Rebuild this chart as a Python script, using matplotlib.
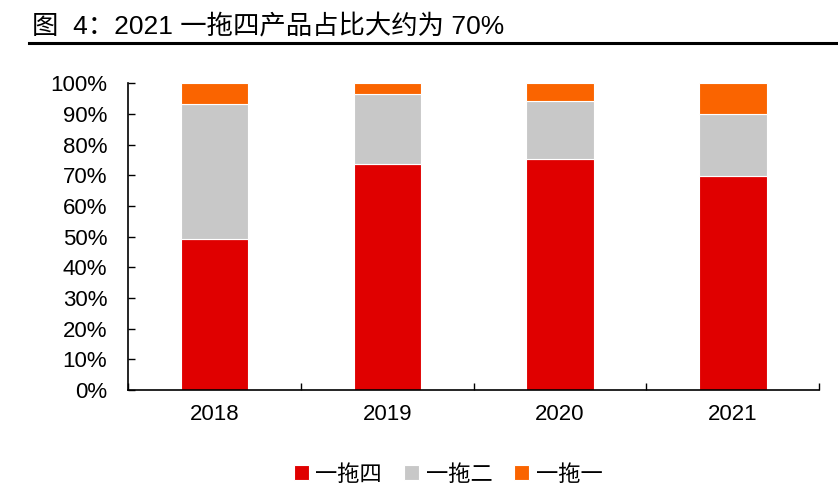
import numpy as np
import matplotlib
matplotlib.use('Agg')
import matplotlib.pyplot as plt
from matplotlib.ticker import PercentFormatter

plt.rcParams['font.family'] = ['Liberation Sans', 'Noto Sans CJK SC', 'DejaVu Sans']

years = ['2018', '2019', '2020', '2021']
series_names = ['一拖四', '一拖二', '一拖一']
share_4 = [49.3, 73.8, 75.2, 69.9]
share_2 = [44.0, 22.7, 19.0, 20.1]
share_1 = [6.7, 3.5, 5.8, 10.0]
colors = ['#E00000', '#C8C8C8', '#FA6400']

fig = plt.figure(figsize=(8.38, 4.98), dpi=100)
ax = fig.add_axes([0.1527, 0.2169, 0.825, 0.6158])

x = np.arange(len(years))
bottom = np.zeros(len(years))
for name, vals, c in zip(series_names, [share_4, share_2, share_1], colors):
    vals = np.array(vals) / 100
    ax.bar(x, vals, width=0.39, bottom=bottom, color=c, edgecolor='white',
           linewidth=0.8, label=name)
    bottom += vals

ax.set_xlim(-0.5, len(years) - 0.5)
ax.set_ylim(0, 1)
ax.set_yticks(np.arange(0, 1.01, 0.1))
ax.yaxis.set_major_formatter(PercentFormatter(1.0, decimals=0))
ax.set_xticks(x)
ax.set_xticklabels(years)
ax.tick_params(axis='x', length=0, labelsize=16, pad=10)
ax.set_xticks(np.arange(-0.5, len(years)), minor=True)
ax.tick_params(axis='x', which='minor', direction='in', length=5, width=1)
ax.tick_params(axis='y', direction='in', length=5, width=1, labelsize=16, pad=15)
for s in ['top', 'right']:
    ax.spines[s].set_visible(False)
for s in ['left', 'bottom']:
    ax.spines[s].set_linewidth(1.2)

ax.legend(loc='center', bbox_to_anchor=(0.535, 0.046), bbox_transform=fig.transFigure,
          ncol=3, frameon=False, fontsize=16, handlelength=0.65, handleheight=0.65,
          handletextpad=0.3, columnspacing=1.0)

fig.text(0.038, 0.946, '图  4：2021 一拖四产品占比大约为 70%', fontsize=19,
         ha='left', va='center')
fig.add_artist(plt.Line2D([0.0346, 1.0], [0.913, 0.913], color='black', linewidth=2.2,
                          transform=fig.transFigure))

fig.savefig('out.png', dpi=100)
